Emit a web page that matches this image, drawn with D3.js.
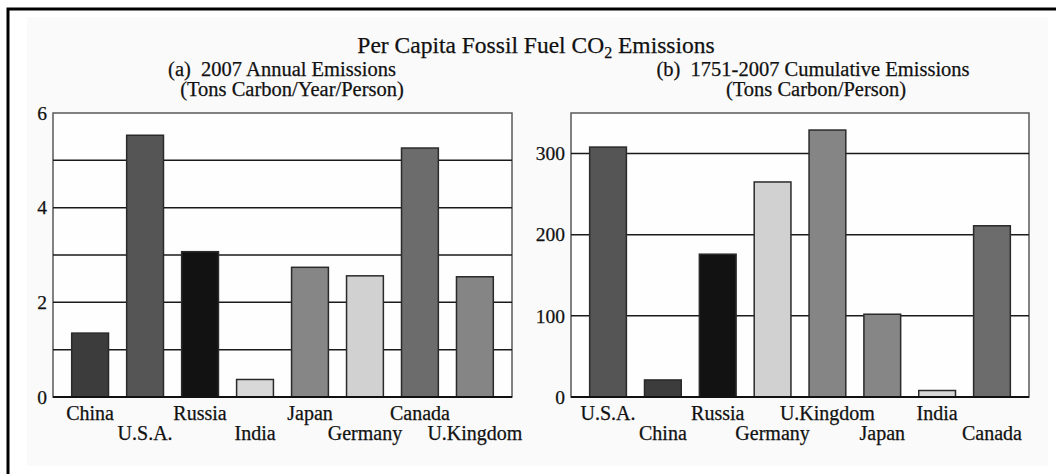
<!DOCTYPE html>
<html>
<head>
<meta charset="utf-8">
<script src="https://cdn.jsdelivr.net/npm/d3@7"></script>
<style>
  html, body { margin: 0; padding: 0; background: #ffffff; }
  svg { display: block; }
  text { font-family: "Liberation Serif", "Times New Roman", serif; fill: #111; stroke: #111; stroke-width: 0.25px; }
</style>
</head>
<body>
<svg id="chart" width="1056" height="474"></svg>
<script>
// Panel (a): 2007 annual per-capita emissions (tons carbon / year / person)
const annualCountries = ["China", "U.S.A.", "Russia", "India", "Japan", "Germany", "Canada", "U.Kingdom"];
const annualValues    = [1.35, 5.53, 3.07, 0.37, 2.74, 2.56, 5.26, 2.54];
const annualTicks     = [0, 2, 4, 6];
const annualGrid      = [1, 2, 3, 4, 5];

// Panel (b): 1751-2007 cumulative per-capita emissions (tons carbon / person)
const cumulativeCountries = ["U.S.A.", "China", "Russia", "Germany", "U.Kingdom", "Japan", "India", "Canada"];
const cumulativeValues    = [308, 21, 176, 265, 329, 102, 8, 211];
const cumulativeTicks     = [0, 100, 200, 300];
const cumulativeGrid      = [100, 200, 300];

// One grey shade per country, shared by both panels
const countryShade = {
  "China": "#3c3c3c",
  "U.S.A.": "#555555",
  "Russia": "#121212",
  "India": "#d8d8d8",
  "Japan": "#868686",
  "Germany": "#d1d1d1",
  "Canada": "#6c6c6c",
  "U.Kingdom": "#858585"
};

const svg = d3.select("#chart");

// page background and frame
svg.append("rect").attr("x", 27).attr("y", 17).attr("width", 1021).attr("height", 449)
  .attr("fill", "#fafafa");
svg.append("path")
  .attr("d", "M8,474 V9 H1056")
  .attr("fill", "none").attr("stroke", "#000").attr("stroke-width", 3);

// main title with subscripted 2
const title = svg.append("text")
  .attr("x", 536).attr("y", 53)
  .attr("text-anchor", "middle")
  .style("font-size", "23.5px");
title.append("tspan").text("Per Capita Fossil Fuel CO");
title.append("tspan").attr("dy", 5).style("font-size", "16px").text("2");
title.append("tspan").attr("dy", -5).text(" Emissions");

function drawPanel(cfg) {
  const g = svg.append("g");
  const x = d3.scaleBand()
    .domain(cfg.categories)
    .range([cfg.left, cfg.right])
    .paddingInner(0.33)
    .paddingOuter(0.34);
  const y = d3.scaleLinear()
    .domain([0, cfg.max])
    .range([cfg.bottom, cfg.top]);

  // subtitle lines
  g.append("text").attr("x", cfg.subX).attr("y", 76)
    .attr("text-anchor", "middle").style("font-size", "20.5px")
    .attr("xml:space", "preserve")
    .text(cfg.subtitle);
  g.append("text").attr("x", cfg.unitX).attr("y", 96)
    .attr("text-anchor", "middle").style("font-size", "20.5px")
    .text(cfg.units);

  // frame around the plot area
  g.append("rect")
    .attr("x", cfg.left).attr("y", cfg.top)
    .attr("width", cfg.right - cfg.left).attr("height", cfg.bottom - cfg.top)
    .attr("fill", "#fefefe").attr("stroke", "#5a5a5a").attr("stroke-width", 1.5);

  // horizontal gridlines
  g.selectAll("line.grid").data(cfg.grid).join("line")
    .attr("class", "grid")
    .attr("x1", cfg.left).attr("x2", cfg.right)
    .attr("y1", d => y(d)).attr("y2", d => y(d))
    .attr("stroke", "#1a1a1a").attr("stroke-width", 1.5);

  // bars
  g.selectAll("rect.bar").data(cfg.categories.map((c, i) => ({ c, v: cfg.values[i] }))).join("rect")
    .attr("class", "bar")
    .attr("x", d => x(d.c))
    .attr("y", d => y(d.v))
    .attr("width", x.bandwidth())
    .attr("height", d => y(0) - y(d.v))
    .attr("fill", d => countryShade[d.c])
    .attr("stroke", "#2a2a2a").attr("stroke-width", 1.5);

  // baseline
  g.append("line")
    .attr("x1", cfg.left).attr("x2", cfg.right)
    .attr("y1", y(0)).attr("y2", y(0))
    .attr("stroke", "#111").attr("stroke-width", 2);

  // y axis tick labels
  const yAxis = d3.axisLeft(y).tickValues(cfg.ticks).tickFormat(d3.format("d"))
    .tickSize(0).tickPadding(6);
  const ya = g.append("g").attr("transform", `translate(${cfg.left},0)`).call(yAxis);
  ya.select(".domain").remove();
  ya.selectAll("text")
    .style("font-family", "'Liberation Serif', serif")
    .style("font-size", "19.5px").attr("fill", "#111");

  // category labels, alternating between two rows
  const xAxis = d3.axisBottom(x).tickSize(0).tickPadding(0);
  const xa = g.append("g").attr("transform", `translate(0,${cfg.bottom})`).call(xAxis);
  xa.select(".domain").remove();
  xa.selectAll("text")
    .style("font-family", "'Liberation Serif', serif")
    .style("font-size", "20px").attr("fill", "#111")
    .attr("dy", null)
    .attr("y", (d, i) => (i % 2 === 0 ? 23 : 43));
}

drawPanel({
  categories: annualCountries, values: annualValues, ticks: annualTicks, grid: annualGrid,
  max: 6, left: 53, right: 512, top: 113, bottom: 397,
  subtitle: "(a)  2007 Annual Emissions", units: "(Tons Carbon/Year/Person)",
  subX: 282, unitX: 292
});

drawPanel({
  categories: cumulativeCountries, values: cumulativeValues, ticks: cumulativeTicks, grid: cumulativeGrid,
  max: 350, left: 571, right: 1029, top: 113, bottom: 397,
  subtitle: "(b)  1751-2007 Cumulative Emissions", units: "(Tons Carbon/Person)",
  subX: 813, unitX: 816
});
</script>
</body>
</html>
